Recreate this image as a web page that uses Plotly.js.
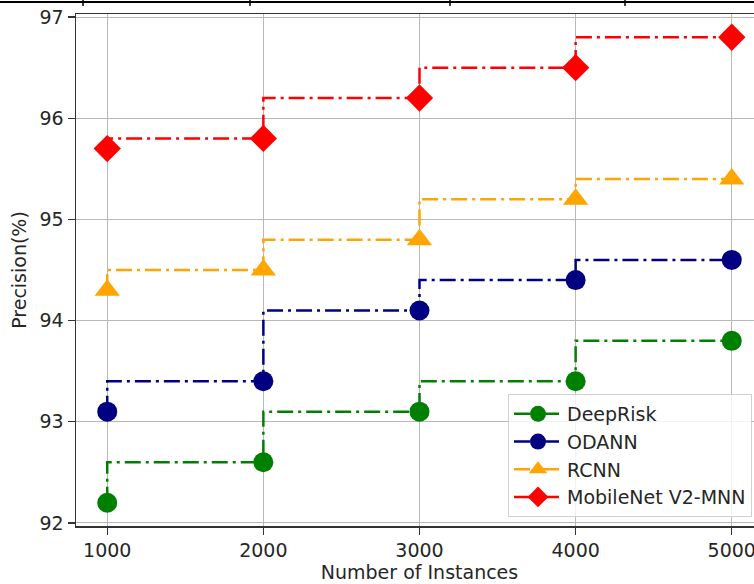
<!DOCTYPE html>
<html>
<head>
<meta charset="utf-8">
<script src="https://cdn.plot.ly/plotly-3.0.1.min.js"></script>
<style>
html, body { margin: 0; padding: 0; overflow: hidden; background: #fff; }
#chart { width: 770px; height: 584px; }
</style>
</head>
<body>
<div id="chart"></div>
<script>
const instances = [1000, 2000, 3000, 4000, 5000];
const deepRisk = [92.2, 92.6, 93.1, 93.4, 93.8];
const odann = [93.1, 93.4, 94.1, 94.4, 94.6];
const rcnn = [94.3, 94.5, 94.8, 95.2, 95.4];
const mobileNet = [95.7, 95.8, 96.2, 96.5, 96.8];
const seriesNames = ['DeepRisk', 'ODANN', 'RCNN', 'MobileNet V2-MNN'];
const xTicks = [1000, 2000, 3000, 4000, 5000];
const yTicks = [92, 93, 94, 95, 96, 97];

const W = 770, H = 584, ML = 76, MR = 7, MT = 14, MB = 58;
const PW = W - ML - MR, PH = H - MT - MB;
const px = v => (v - ML) / PW;
const py = v => (H - MB - v) / PH;

const styles = [
  {color: '#008000', symbol: 'circle', size: 20},
  {color: '#000080', symbol: 'circle', size: 20},
  {color: '#FFA500', symbol: 'triangle-up', size: 22},
  {color: '#FF0000', symbol: 'diamond', size: 21}
];
const values = [deepRisk, odann, rcnn, mobileNet];

const traces = values.map((ys, i) => ({
  type: 'scatter',
  mode: 'lines+markers',
  x: instances,
  y: ys,
  name: seriesNames[i],
  legendgroup: 'g' + i,
  line: {shape: 'vh', color: styles[i].color, width: 2.5, dash: '16px,5px,3px,5px'},
  marker: {symbol: styles[i].symbol, size: styles[i].size, color: styles[i].color}
}));

const font = {family: 'DejaVu Sans, sans-serif', size: 19, color: '#262626'};

const shapes = [
  {type: 'line', xref: 'paper', yref: 'paper', x0: px(0), x1: px(W), y0: py(2), y1: py(2),
   line: {color: '#000', width: 2}}
];
[83, 250, 450, 625].forEach(x => shapes.push({
  type: 'line', xref: 'paper', yref: 'paper', x0: px(x), x1: px(x), y0: py(0), y1: py(6),
  line: {color: '#000', width: 1.5}
}));

const layout = {
  width: W, height: H,
  margin: {l: ML, r: MR, t: MT, b: MB, pad: 0},
  paper_bgcolor: '#fff', plot_bgcolor: '#fff',
  font: font,
  showlegend: true,
  legend: {
    x: px(752), xanchor: 'right', y: py(517), yanchor: 'bottom',
    bgcolor: 'rgba(255,255,255,0.8)', bordercolor: '#d0d0d0', borderwidth: 1,
    font: {family: 'DejaVu Sans, sans-serif', size: 19, color: '#262626'},
    tracegroupgap: 5, traceorder: 'normal', itemwidth: 48
  },
  xaxis: {
    range: [800, 5200], tickvals: xTicks, ticktext: xTicks.map(String),
    showgrid: true, gridcolor: '#b8b8b8', gridwidth: 1,
    showline: true, linecolor: '#333', linewidth: 1.5, mirror: true,
    ticks: 'outside', ticklen: 7, tickcolor: '#333', tickwidth: 1.2,
    zeroline: false,
    title: {text: 'Number of Instances', font: font, standoff: 5}
  },
  yaxis: {
    range: [91.97, 97.03], tickvals: yTicks, ticktext: yTicks.map(String),
    showgrid: true, gridcolor: '#b8b8b8', gridwidth: 1,
    showline: true, linecolor: '#333', linewidth: 1.5, mirror: true,
    ticks: 'outside', ticklen: 7, tickcolor: '#333', tickwidth: 1.2,
    zeroline: false,
    title: {text: 'Precision(%)', font: font, standoff: 8}
  },
  shapes: shapes
};

Plotly.newPlot('chart', traces, layout, {displayModeBar: false, staticPlot: true});
</script>
</body>
</html>
